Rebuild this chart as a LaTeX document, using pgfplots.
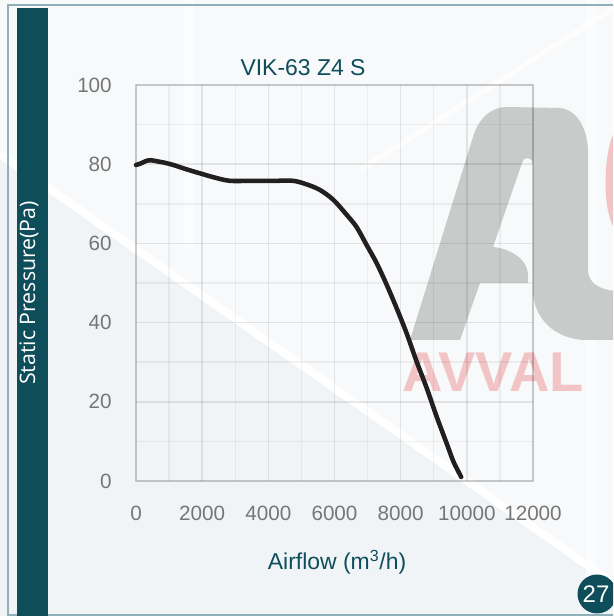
\documentclass[border=0pt]{standalone}
\usepackage{fontspec}
\setmainfont{Liberation Sans}
\newfontfamily\opensans{Open Sans}
\usepackage{pgfplots}
\pgfplotsset{compat=1.18}
\definecolor{teal1}{RGB}{14,77,90}
\definecolor{bordc}{RGB}{143,176,184}
\definecolor{bgA}{RGB}{247,249,250}
\definecolor{bgB}{RGB}{241,244,246}
\definecolor{wmgray}{RGB}{201,202,202}
\definecolor{wmred}{RGB}{242,196,198}
\definecolor{ticklab}{RGB}{118,118,118}
\definecolor{curvec}{RGB}{35,31,32}

\begin{document}
\begin{tikzpicture}[x=0.75pt,y=0.75pt]
\useasboundingbox (0,0) rectangle (613,616);
\clip (0,0) rectangle (613,616);
% ---------- background and watermark (pixel coordinates) ----------
\begin{scope}[yshift=462pt,yscale=-1]
  \fill[bgA] (0,0) rectangle (613,616);
  \fill[bgB] (0,159) -- (650,614) -- (650,640) -- (0,640) -- cycle;
  \draw[white, line width=6pt] (0,154) -- (650,609);
  \draw[white, line width=4pt, opacity=0.8] (360,170) -- (620,4);
  \fill[white, opacity=0.6] (586,0) rectangle (596,616);
  \fill[white, opacity=0.6] (184,0) rectangle (194,248);
  % gray logo shape
  \fill[wmgray] (410,340) -- (473,137)
     .. controls (478,120) and (490,107) .. (507,107) -- (560,108)
     .. controls (578,110) and (588,130) .. (588,153) -- (588,270)
     .. controls (588,283) and (600,291) .. (620,291) -- (620,340) -- (587,340)
     .. controls (555,340) and (533,318) .. (533,290) -- (533,165)
     .. controls (533,160) and (530,158) .. (527,158)
     .. controls (524,158) and (523,160) .. (522,163) -- (493,247)
     .. controls (505,248) and (528,256) .. (528,276) -- (528,283)
     -- (480,283) -- (460,340) -- cycle;
  \fill[wmred] (613,135) .. controls (604,155) and (602,205) .. (613,226) -- cycle;
  \node[anchor=base, text=wmred, inner sep=0pt, font=\bfseries\fontsize{42}{46}\selectfont] at (493,392) {AVVAL};
\end{scope}
% ---------- the chart ----------
\begin{axis}[
  at={(102pt,101.25pt)}, anchor=south west,
  scale only axis, width=297.75pt, height=297pt,
  xmin=0, xmax=12000, ymin=0, ymax=100,
  scaled x ticks=false, scaled y ticks=false,
  xtick={0,2000,4000,6000,8000,10000,12000},
  xticklabels={0,2000,4000,6000,8000,10000,12000},
  ytick={0,20,40,60,80,100},
  yticklabels={0,20,40,60,80,100},
  minor xtick={1000,3000,5000,7000,9000,11000},
  minor ytick={10,30,50,70,90},
  grid=both,
  major grid style={draw=black, draw opacity=0.09, line width=1.1pt},
  minor grid style={draw=black, draw opacity=0.05, line width=1.1pt},
  axis line style={draw=black, draw opacity=0.12, line width=1.1pt},
  major tick length=0pt, minor tick length=0pt,
  tick label style={font=\fontsize{15.5}{18}\selectfont, text=ticklab, inner sep=0pt},
  xticklabel style={anchor=center, yshift=-24pt},
  yticklabel style={anchor=east, xshift=-18pt},
  clip=false,
]
\addplot[curvec, line width=3.4pt, smooth, line join=round, line cap=round] coordinates {
(0,79.8) (150,80.2) (300,80.8) (450,81.0) (650,80.7) (850,80.4) (1130,79.8)
(1530,78.7) (1930,77.7) (2390,76.6) (2840,75.8) (3500,75.8) (4200,75.8)
(4755,75.8) (5160,74.9) (5560,73.5) (5965,71.0) (6370,67.2) (6670,64.1)
(6970,59.6) (7275,55.0) (7580,49.5) (7880,43.6) (8180,37.3) (8485,30.1)
(8790,23.4) (9090,16.2) (9390,9.5) (9595,4.9) (9800,1.5) (9830,1.0)
};
\end{axis}
% ---------- frame, side bar, texts ----------
\begin{scope}[yshift=462pt,yscale=-1]
  \draw[bordc, line width=1.5pt] (8,640) -- (8,5) -- (640,5);
  \draw[bordc, line width=1.5pt] (8,615) -- (640,615);
  \fill[teal1] (17,8) rectangle (48,620);
  \node[anchor=base, rotate=90, text=white, inner sep=0pt, font=\opensans\fontsize{16}{19}\selectfont] at (35,293) {Static Pressure(Pa)};
  \node[anchor=base, text=teal1, inner sep=0pt, font=\fontsize{17.2}{20}\selectfont] at (303,76) {VIK-63 Z4 S};
  \node[anchor=base, text=teal1, inner sep=0pt, font=\fontsize{17.2}{20}\selectfont] at (337,570) {Airflow (m\textsuperscript{3}/h)};
  \fill[teal1] (597,594) circle (19.5);
  \node[text=white, inner sep=0pt, font=\fontsize{18}{20}\selectfont] at (596,594) {27};
\end{scope}
\end{tikzpicture}
\end{document}
